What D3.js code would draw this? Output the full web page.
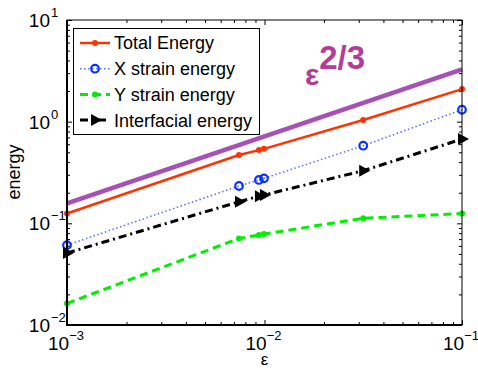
<!DOCTYPE html>
<html>
<head>
<meta charset="utf-8">
<script src="https://cdn.jsdelivr.net/npm/d3@7"></script>
<style>
  body { margin: 0; background: #fff; }
  text { font-family: "Liberation Sans", Arial, sans-serif; fill: #000; }
</style>
</head>
<body>
<div id="root"></div>
<script>
// data
const eps = [0.001, 0.00743, 0.00937, 0.00994, 0.0316, 0.1];
const totalEnergy = [0.125, 0.47, 0.525, 0.54, 1.04, 2.09];
const xStrain = [0.061, 0.233, 0.267, 0.277, 0.58, 1.31];
const yStrain = [0.0163, 0.0711, 0.0767, 0.0785, 0.112, 0.125];
const interfacial = [0.051, 0.163, 0.185, 0.19, 0.329, 0.674];
const fitEps = [0.001, 0.1];
const fitVals = [0.157, 3.27];
const xTicks = [1e-3, 1e-2, 1e-1];
const xTickExp = ["\u22123", "\u22122", "\u22121"];
const yTicks = [1e-2, 1e-1, 1e0, 1e1];
const yTickExp = ["\u22122", "\u22121", "0", "1"];

var margin = { top: 20, right: 16, bottom: 43, left: 67 },
  width = 478 - margin.left - margin.right,
  height = 368 - margin.top - margin.bottom;

var svg = d3.select("#root")
  .append("svg")
  .attr("width", 478)
  .attr("height", 368);

var g = svg.append("g")
  .attr("transform", `translate(${margin.left},${margin.top})`);

var x = d3.scaleLog().domain([1e-3, 1e-1]).range([0, width]);
var y = d3.scaleLog().domain([1e-2, 1e1]).range([height, 0]);

// minor ticks for log axes
function minors(lo, hi) {
  var out = [];
  for (var e = lo; e < hi; e++)
    for (var k = 2; k <= 9; k++) out.push(k * Math.pow(10, e));
  return out;
}
var xMinor = minors(-3, -1);
var yMinor = minors(-2, 1);

function tickAxis(axisFn, scale, vals, size) {
  return axisFn(scale).tickValues(vals).tickSizeInner(-size).tickSizeOuter(0).tickFormat("");
}

// ticks on all four sides (inside)
var axes = [
  [d3.axisBottom, x, `translate(0,${height})`],
  [d3.axisTop, x, "translate(0,0)"],
  [d3.axisLeft, y, "translate(0,0)"],
  [d3.axisRight, y, `translate(${width},0)`]
];
axes.forEach(function (a) {
  var isX = a[1] === x;
  var major = isX ? xTicks : yTicks;
  var minor = isX ? xMinor : yMinor;
  [[major, 5], [minor, 3]].forEach(function (p) {
    var ax = g.append("g").attr("transform", a[2]).call(tickAxis(a[0], a[1], p[0], p[1]));
    ax.select(".domain").remove();
    ax.selectAll("line").attr("stroke", "#000").attr("stroke-width", 1);
  });
});

// lines
var line = d3.line()
  .x(function (d) { return x(d[0]); })
  .y(function (d) { return y(d[1]); });

function pairs(xs, ys) { return xs.map(function (v, i) { return [v, ys[i]]; }); }

g.append("path")
  .datum(pairs(fitEps, fitVals))
  .attr("fill", "none")
  .attr("stroke", "#a750b5")
  .attr("stroke-width", 4.5)
  .attr("d", line);

var series = [
  { name: "Total Energy", vals: totalEnergy, color: "#ff3300", width: 2.5, dash: null, marker: "dot" },
  { name: "X strain energy", vals: xStrain, color: "#5c70ff", width: 1.6, dash: "1.5,2.5", marker: "circle", mcolor: "#0a32ff" },
  { name: "Y strain energy", vals: yStrain, color: "#00ee00", width: 3, dash: "8,5", marker: "dot" },
  { name: "Interfacial energy", vals: interfacial, color: "#000", width: 3, dash: "8,4,2,4", marker: "tri" }
];

function drawMarker(sel, s, px, py) {
  if (s.marker === "dot") {
    sel.append("circle").attr("cx", px).attr("cy", py).attr("r", 3).attr("fill", s.color);
  } else if (s.marker === "circle") {
    sel.append("circle").attr("cx", px).attr("cy", py).attr("r", 3.8)
      .attr("fill", "none").attr("stroke", s.mcolor).attr("stroke-width", 2.2);
  } else {
    sel.append("path")
      .attr("d", `M${px - 4},${py - 6}L${px + 7},${py}L${px - 4},${py + 6}Z`)
      .attr("fill", "#000");
  }
}

series.forEach(function (s) {
  g.append("path")
    .datum(pairs(eps, s.vals))
    .attr("fill", "none")
    .attr("stroke", s.color)
    .attr("stroke-width", s.width)
    .attr("stroke-dasharray", s.dash)
    .attr("d", line);
  var mk = g.append("g");
  eps.forEach(function (e, i) { drawMarker(mk, s, x(e), y(s.vals[i])); });
});

// frame
g.append("rect").attr("width", width).attr("height", height)
  .attr("fill", "none").attr("stroke", "#000").attr("stroke-width", 1);
g.append("path").attr("d", `M0,0V${height}H${width}`)
  .attr("fill", "none").attr("stroke", "#000").attr("stroke-width", 2);

// tick labels
xTicks.forEach(function (t, i) {
  var t1 = g.append("text")
    .attr("x", x(t) - 1).attr("y", height + 25)
    .attr("text-anchor", "middle")
    .style("font-size", "19px");
  t1.append("tspan").text("10");
  t1.append("tspan").attr("dy", -10).style("font-size", "13px").text(xTickExp[i]);
});
yTicks.forEach(function (t, i) {
  var yy = y(t);
  g.append("text").attr("x", -17).attr("y", yy + 7)
    .attr("text-anchor", "end").style("font-size", "19px").text("10");
  g.append("text").attr("x", -16).attr("y", yy - 3)
    .style("font-size", "13px").text(yTickExp[i]);
});

// axis labels
svg.append("text").attr("x", margin.left + x(1e-2)).attr("y", 365)
  .attr("text-anchor", "middle").style("font-size", "17px").text("\u03b5");
svg.append("text")
  .attr("transform", "translate(20,172) rotate(-90)")
  .attr("text-anchor", "middle").style("font-size", "18px").text("energy");

// annotation
var ann = svg.append("text").attr("x", 305).attr("y", 85)
  .style("font-weight", "bold").style("fill", "#b23c97");
ann.append("tspan").style("font-size", "30px").text("\u03b5");
ann.append("tspan").attr("dy", -16).style("font-size", "33px").text("2/3");

// legend
var lg = svg.append("g");
lg.append("rect").attr("x", 73.5).attr("y", 28.5).attr("width", 186).attr("height", 106)
  .attr("fill", "#fff").attr("stroke", "#000").attr("stroke-width", 1);
series.forEach(function (s, i) {
  var ly = 43 + i * 25.7;
  lg.append("line").attr("x1", 80).attr("x2", 110).attr("y1", ly).attr("y2", ly)
    .attr("stroke", s.color).attr("stroke-width", s.width).attr("stroke-dasharray", s.dash);
  drawMarker(lg, s, 95, ly);
  lg.append("text").attr("x", 114).attr("y", ly).attr("dy", "0.36em")
    .style("font-size", "18px").text(s.name);
});
</script>
</body>
</html>
